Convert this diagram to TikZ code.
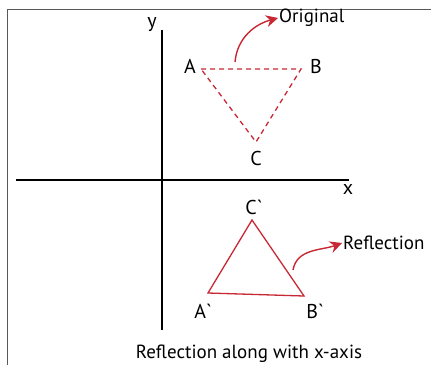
\documentclass[tikz,border=0pt]{standalone}
\usepackage{fontspec}
\setmainfont{PT Sans}
\usetikzlibrary{arrows.meta}
\definecolor{refred}{RGB}{200,40,52}
\tikzset{
  lbl/.style={font=\fontsize{20}{22}\selectfont, inner sep=1pt},
  txt/.style={font=\fontsize{19}{21}\selectfont, inner sep=1pt},
  curvearrow/.style={refred, line width=1.4pt, -{Stealth[length=12pt,width=12pt]}}
}
\newcommand{\pr}{\textasciigrave}
\begin{document}
\begin{tikzpicture}[x=1pt,y=-1pt]
        \useasboundingbox (0,0) rectangle (431,365);
        % Frame
        \draw[gray!70!black, line width=0.8pt] (7,365) -- (7,9) -- (431,9);
        % Axes
        \coordinate (ytop) at (162,30);
        \coordinate (ybot) at (162,330);
        \coordinate (xleft) at (16,180);
        \coordinate (xright) at (349,180);
        \draw[line width=1.3pt] (ytop) -- (ybot);
        \draw[line width=1.3pt] (xleft) -- (xright);
        \node[lbl] (ylab) at (152,25) {y};
        \node[lbl] (xlab) at (348,189) {x};
        % Original triangle (dashed)
        \coordinate (A) at (201,69);
        \coordinate (B) at (301,69);
        \coordinate (C) at (256,142);
        \draw[refred, line width=1.3pt, dash pattern=on 5pt off 4pt] (A) -- (B) -- (C) -- cycle;
        \node[lbl] (Alab) at (190,66) {A};
        \node[lbl] (Blab) at (316,66) {B};
        \node[lbl] (Clab) at (256,158) {C};
        % Reflected triangle
        \coordinate (A1) at (208,293);
        \coordinate (B1) at (304,296);
        \coordinate (C1) at (252,220);
        \draw[refred, line width=1.3pt] (A1) -- (B1) -- (C1) -- cycle;
        \node[lbl] (A1lab) at (203,311) {A\pr};
        \node[lbl] (B1lab) at (315,311) {B\pr};
        \node[lbl] (C1lab) at (254,207) {C\pr};
        % Pointers
        \node[txt, anchor=west] (orig) at (278,18) {Original};
        \node[txt, anchor=west] (refl) at (342,243) {Reflection};
        \coordinate (os) at (235,62);
        \coordinate (rs) at (293,270);
        \draw[curvearrow] (os) to[out=85,in=195] (orig.west);
        \draw[curvearrow] (rs) to[out=80,in=200] (refl.west);
        % Caption
        \node[txt] (cap) at (249,354) {Reflection along with x-axis};
    \end{tikzpicture}
\end{document}
